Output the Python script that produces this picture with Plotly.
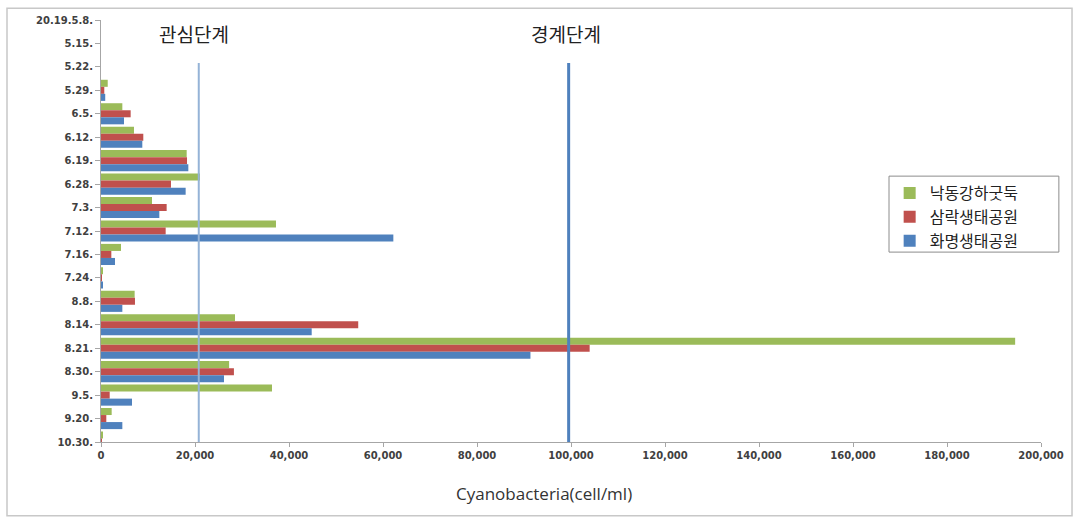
import plotly.graph_objects as go

dates = ["20.19.5.8.", "5.15.", "5.22.", "5.29.", "6.5.", "6.12.", "6.19.", "6.28.",
         "7.3.", "7.12.", "7.16.", "7.24.", "8.8.", "8.14.", "8.21.", "8.30.",
         "9.5.", "9.20.", "10.30."]
nakdong = [0, 0, 0, 1430, 4540, 7020, 18230, 21060, 10850, 37230, 4260, 250,
           7160, 28510, 194500, 27260, 36380, 2270, 300]
samrak = [0, 0, 0, 700, 6310, 9000, 18300, 14890, 13970, 13760, 2200, 150,
          7230, 54730, 103970, 28280, 1850, 1130, 200]
hwamyeong = [0, 0, 0, 900, 4890, 8790, 18580, 18010, 12410, 62200, 2980, 250,
             4540, 44830, 91370, 26170, 6600, 4540, 0]
series_names = ["낙동강하굿둑", "삼락생태공원", "화명생태공원"]
colors = ["#9BBB59", "#C0504D", "#4F81BD"]
x_ticks = [0, 20000, 40000, 60000, 80000, 100000, 120000, 140000, 160000, 180000, 200000]
level_interest = 20800
level_caution = 99500

fig = go.Figure()
for name, vals, col in zip(series_names, [nakdong, samrak, hwamyeong], colors):
    fig.add_trace(go.Bar(y=dates, x=vals, name=name, orientation="h",
                         marker=dict(color=col, line=dict(width=0))))

fig.add_shape(type="line", xref="x", yref="paper", x0=level_interest, x1=level_interest,
              y0=0, y1=0.898, line=dict(color="#95B3D7", width=2))
fig.add_shape(type="line", xref="x", yref="paper", x0=level_caution, x1=level_caution,
              y0=0, y1=0.898, line=dict(color="#4F81BD", width=3))

fig.add_annotation(x=level_interest, y=0.969, xref="x", yref="paper", text="관심단계",
                   showarrow=False, yanchor="middle", xshift=-5,
                   font=dict(family="Noto Sans CJK KR", size=19, color="#222222"))
fig.add_annotation(x=level_caution, y=0.969, xref="x", yref="paper", text="경계단계",
                   showarrow=False, yanchor="middle", xshift=-3,
                   font=dict(family="Noto Sans CJK KR", size=19, color="#222222"))
fig.add_annotation(x=(544 - 101) / 940, y=-0.122, xref="paper", yref="paper",
                   text="Cyanobacteria(cell/ml)", showarrow=False, yanchor="middle",
                   font=dict(family="Open Sans", size=17, color="#333333"))

# outer chart frame
fig.add_shape(type="rect", xref="paper", yref="paper", x0=-0.1, x1=1.033, y0=-0.175,
              y1=1.028, line=dict(color="#C8C8C8", width=1.5), layer="below")
# legend frame
fig.add_shape(type="rect", xref="paper", yref="paper", x0=0.8383, x1=1.019, y0=0.450,
              y1=0.630, line=dict(color="#8C8C8C", width=1), fillcolor="white",
              layer="below")

fig.update_layout(
    width=1079, height=520,
    margin=dict(l=101, r=38, t=20, b=78),
    paper_bgcolor="white", plot_bgcolor="white",
    barmode="group", bargap=0.1, bargroupgap=0,
    showlegend=True,
    legend=dict(x=0.839, y=0.63, xanchor="left", yanchor="top",
                borderwidth=0, bgcolor="rgba(0,0,0,0)",
                font=dict(family="Noto Sans CJK KR", size=16, color="#222222"),
                traceorder="normal", itemwidth=30, tracegroupgap=0),
    xaxis=dict(range=[0, 200000], tickvals=x_ticks,
               ticktext=[f"{v:,}" for v in x_ticks],
               showgrid=False, zeroline=False, showline=True, linecolor="#A6A6A6",
               ticks="outside", ticklen=4, tickcolor="#A6A6A6",
               tickfont=dict(family="DejaVu Sans", size=10, color="#404040", weight="bold")),
    yaxis=dict(type="category", range=[18, 0], showgrid=False, zeroline=False,
               showline=True, linecolor="#A6A6A6", ticks="outside", ticklen=5,
               tickcolor="#A6A6A6",
               tickfont=dict(family="DejaVu Sans", size=10, color="#404040", weight="bold")),
)

fig.write_html("out.html")
